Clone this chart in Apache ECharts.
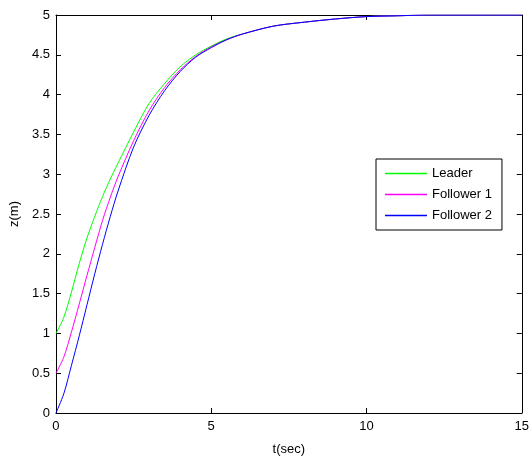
<!DOCTYPE html>
<html>
<head>
<meta charset="utf-8">
<script src="https://cdn.jsdelivr.net/npm/echarts@6/dist/echarts.min.js"></script>
<style>html,body{margin:0;padding:0;background:#fff}#c{width:532px;height:461px}</style>
</head>
<body>
<div id="c"></div>
<script>
var times = [0,0.25,0.5,0.75,1,1.25,1.5,1.75,2,2.5,3,3.5,4,4.5,5,5.5,6,7,8,9,10,11,12,13,14,15];
var leader = [1.00,1.20,1.52,1.88,2.20,2.47,2.72,2.94,3.14,3.53,3.89,4.14,4.35,4.50,4.61,4.70,4.76,4.86,4.91,4.95,4.98,4.99,5.00,5.00,5.00,5.00];
var follower1 = [0.50,0.70,1.02,1.37,1.73,2.08,2.42,2.71,2.97,3.42,3.80,4.09,4.31,4.48,4.60,4.69,4.76,4.86,4.91,4.95,4.98,4.99,5.00,5.00,5.00,5.00];
var follower2 = [0.00,0.24,0.60,0.97,1.36,1.75,2.12,2.47,2.79,3.34,3.74,4.05,4.29,4.47,4.59,4.69,4.76,4.86,4.91,4.95,4.98,4.99,5.00,5.00,5.00,5.00];
var seriesNames = ['Leader','Follower 1','Follower 2'];
var seriesColors = ['#00ff00','#ff00ff','#0000ff'];
var xName = 't(sec)';
var yName = 'z(m)';

function pairs(vals){ return times.map(function(t,i){ return [t, vals[i]]; }); }
var allVals = [leader, follower1, follower2];
var font = 'Liberation Sans, Arial, sans-serif';

var chart = echarts.init(document.getElementById('c'), null, {renderer:'canvas'});
var axisCommon = {
  axisLine:{show:true, onZero:false, lineStyle:{color:'#000', width:1}},
  axisTick:{show:true, inside:true, length:5, lineStyle:{color:'#000'}},
  splitLine:{show:false}
};
chart.setOption({
  animation:false,
  backgroundColor:'#fff',
  grid:{left:55, right:9, top:15, bottom:45, containLabel:false},
  legend:{
    left:376, top:159, orient:'vertical',
    data: seriesNames.map(function(n){ return {name:n, icon:'rect'}; }),
    itemWidth:42, itemHeight:1.5, itemGap:8,
    padding:[8,10,8,9],
    backgroundColor:'#fff', borderColor:'#000', borderWidth:1, borderRadius:0,
    textStyle:{fontFamily:font, fontSize:13, color:'#000', padding:[0,0,0,0]}
  },
  xAxis:[
    Object.assign({type:'value', position:'bottom', min:0, max:15, interval:5,
      name:xName, nameLocation:'middle', nameGap:30,
      nameTextStyle:{fontFamily:font, fontSize:13, color:'#000'},
      axisLabel:{fontFamily:font, fontSize:13, color:'#000', margin:7}}, axisCommon),
    Object.assign({type:'value', position:'top', min:0, max:15, interval:5,
      axisLabel:{show:false}}, axisCommon)
  ],
  yAxis:[
    Object.assign({type:'value', position:'left', min:0, max:5, interval:0.5,
      name:yName, nameLocation:'middle', nameGap:29,
      nameTextStyle:{fontFamily:font, fontSize:13, color:'#000'},
      axisLabel:{fontFamily:font, fontSize:13, color:'#000', margin:6}}, axisCommon),
    Object.assign({type:'value', position:'right', min:0, max:5, interval:0.5,
      axisLabel:{show:false}}, axisCommon)
  ],
  series: seriesNames.map(function(n,i){
    return {name:n, type:'line', xAxisIndex:0, yAxisIndex:0, data:pairs(allVals[i]),
      symbol:'none', smooth:0.3,
      lineStyle:{color:seriesColors[i], width:1}, itemStyle:{color:seriesColors[i]}};
  })
});
</script>
</body>
</html>
